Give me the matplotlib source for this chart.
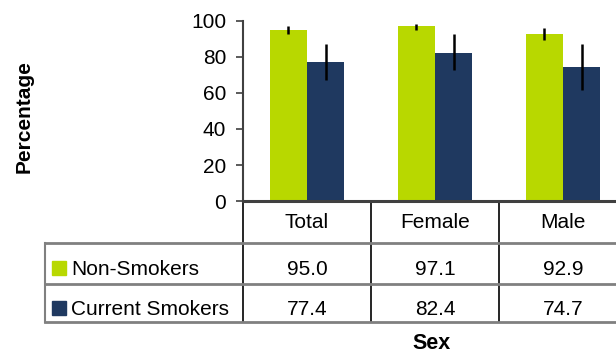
import matplotlib
matplotlib.use("Agg")
import matplotlib.pyplot as plt
import matplotlib.transforms as mtransforms
from matplotlib.lines import Line2D
from matplotlib.patches import Rectangle
import numpy as np

plt.rcParams['font.family'] = ['Liberation Sans', 'DejaVu Sans']

categories = ["Total", "Female", "Male"]
series_names = ["Non-Smokers", "Current Smokers"]
non_smokers = [95.0, 97.1, 92.9]
current_smokers = [77.4, 82.4, 74.7]
non_err_low = [2.2, 2.1, 3.5]
non_err_high = [2.2, 1.2, 3.2]
cur_err_low = [10.2, 9.6, 13.0]
cur_err_high = [9.8, 10.4, 12.5]
yticks = [0, 20, 40, 60, 80, 100]
y_label = "Percentage"
x_label = "Sex"

GREEN = "#B8D800"
NAVY = "#1F3960"
W, H = 616, 354
FS = 15

fig = plt.figure(figsize=(W / 100, H / 100), dpi=100)
ax_left, ax_right, ax_top, ax_bot = 243, 627, 21, 201
ax = fig.add_axes([ax_left / W, 1 - ax_bot / H, (ax_right - ax_left) / W, (ax_bot - ax_top) / H])

x = np.arange(len(categories))
bw = 0.29
ax.bar(x - bw / 2, non_smokers, bw, color=GREEN, zorder=2)
ax.bar(x + bw / 2, current_smokers, bw, color=NAVY, zorder=2)
ax.errorbar(x - bw / 2, non_smokers, yerr=[non_err_low, non_err_high], fmt='none',
            ecolor='black', elinewidth=1.8, capsize=0, zorder=3)
ax.errorbar(x + bw / 2, current_smokers, yerr=[cur_err_low, cur_err_high], fmt='none',
            ecolor='black', elinewidth=1.8, capsize=0, zorder=3)

ax.set_xlim(-0.5, len(categories) - 0.5)
ax.set_ylim(0, 100)
ax.set_yticks(yticks)
ax.set_yticklabels([str(t) for t in yticks], fontsize=FS)
ax.set_xticks([])
ax.tick_params(axis='y', direction='out', length=5, width=1.2, color='#404040', pad=7)
for s in ['top', 'right']:
    ax.spines[s].set_visible(False)
ax.spines['left'].set_color('#404040')
ax.spines['left'].set_linewidth(1.5)
ax.spines['bottom'].set_color('#404040')
ax.spines['bottom'].set_linewidth(2.2)
ax.spines['bottom'].set_zorder(4)

row_y = [201, 243, 284, 322]
baselines = [228, 275, 315]
table_left = 45
grey = '#808080'
for yy in row_y[1:]:
    fig.add_artist(Line2D([table_left / W, 1.0], [1 - yy / H, 1 - yy / H], color=grey, lw=2.0))
fig.add_artist(Line2D([table_left / W, table_left / W], [1 - row_y[1] / H, 1 - row_y[3] / H], color=grey, lw=1.5))
trans = mtransforms.blended_transform_factory(ax.transData, fig.transFigure)
for xv in np.arange(-0.5, len(categories) - 0.5, 1.0):
    ax.add_artist(Line2D([xv, xv], [1 - row_y[0] / H, 1 - row_y[3] / H], color='black', lw=1.2,
                         transform=trans, clip_on=False))

for i, c in enumerate(categories):
    fig.text(i, 1 - baselines[0] / H, c, fontsize=FS, ha='center', va='baseline', transform=trans)

rows = [non_smokers, current_smokers]
colors = [GREEN, NAVY]
for r, (name, vals, col) in enumerate(zip(series_names, rows, colors)):
    bl = baselines[r + 1]
    fig.add_artist(Rectangle((52 / W, 1 - bl / H), 14 / W, 14 / H, color=col, transform=fig.transFigure))
    fig.text(71 / W, 1 - bl / H, name, fontsize=FS, ha='left', va='baseline')
    for i, v in enumerate(vals):
        fig.text(i, 1 - bl / H, f"{v:.1f}", fontsize=FS, ha='center', va='baseline', transform=trans)

fig.text(24 / W, 1 - 116.5 / H, y_label, fontsize=15, fontweight='bold', rotation=90, ha='center', va='center')
fig.text(432 / W, 1 - 349 / H, x_label, fontsize=15.5, fontweight='bold', ha='center', va='baseline')

fig.savefig("out.png", dpi=100)
